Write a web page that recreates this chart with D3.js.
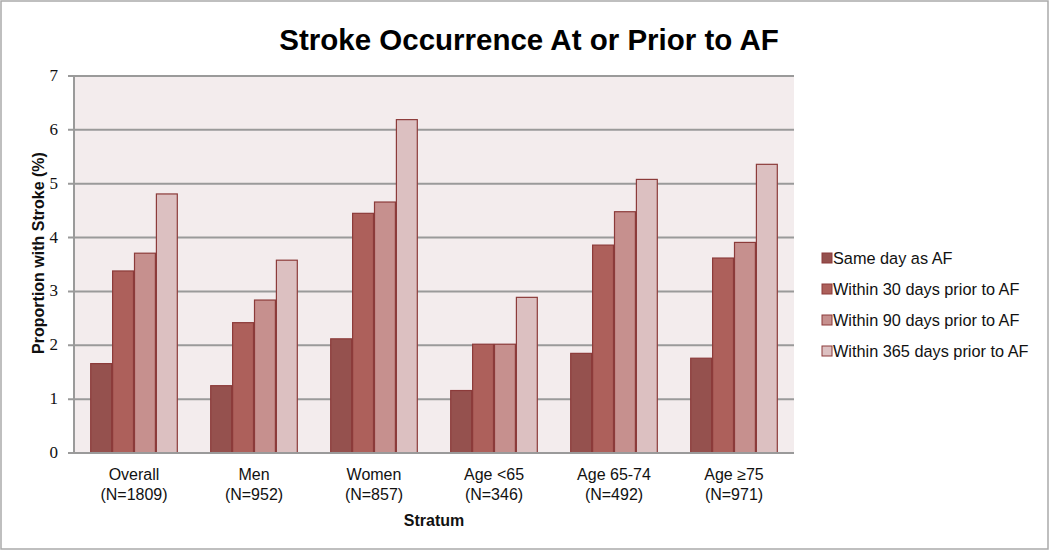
<!DOCTYPE html>
<html><head><meta charset="utf-8">
<script src="https://cdn.jsdelivr.net/npm/d3@7"></script>
<style>body{margin:0;background:#fff}svg{display:block;font-family:"Liberation Sans",Arial,sans-serif}</style>
</head><body><svg id="c" width="1050" height="553"></svg>
<script>
const categories = ["Overall", "Men", "Women", "Age <65", "Age 65-74", "Age \u226575"];
const sampleSizes = ["(N=1809)", "(N=952)", "(N=857)", "(N=346)", "(N=492)", "(N=971)"];
const seriesNames = ["Same day as AF", "Within 30 days prior to AF", "Within 90 days prior to AF", "Within 365 days prior to AF"];
const sameDay = [1.66, 1.25, 2.12, 1.16, 1.85, 1.76];
const within30 = [3.38, 2.42, 4.45, 2.02, 3.86, 3.62];
const within90 = [3.71, 2.84, 4.66, 2.02, 4.48, 3.91];
const within365 = [4.81, 3.58, 6.19, 2.89, 5.08, 5.36];
const yTicks = [0, 1, 2, 3, 4, 5, 6, 7];
const series = [sameDay, within30, within90, within365];
const colors = ["#95514e", "#ad605b", "#c6908e", "#dcc0c1"];

const svg = d3.select("#c");
svg.append("rect").attr("x", 1).attr("y", 1).attr("width", 1047).attr("height", 548)
  .attr("fill", "#fff").attr("stroke", "#aaa").attr("stroke-width", 1.5);

const L = 74, R = 794, T = 76, B = 453;
const x0 = d3.scaleBand().domain(categories).range([L, R]).paddingInner(0.27).paddingOuter(0.135);
const x1 = d3.scaleBand().domain(d3.range(4)).range([0, x0.bandwidth()]);
const y = d3.scaleLinear().domain([0, 7]).range([B, T]);

svg.append("rect").attr("x", L).attr("y", T).attr("width", R - L).attr("height", B - T).attr("fill", "#f3eced");

svg.append("g").selectAll("line").data(yTicks).join("line")
  .attr("x1", L - 6).attr("x2", R).attr("y1", d => y(d)).attr("y2", d => y(d))
  .attr("stroke", "#9a9a9a").attr("stroke-width", 2);
svg.append("line").attr("x1", L).attr("x2", L).attr("y1", T).attr("y2", B).attr("stroke", "#9a9a9a").attr("stroke-width", 2);

svg.append("g").selectAll("text").data(yTicks).join("text")
  .attr("x", L - 16).attr("y", d => y(d) + 5).attr("text-anchor", "end")
  .attr("font-family", "'Liberation Serif','DejaVu Serif',serif")
  .attr("font-size", 17).attr("fill", "#111").text(d => d);

const g = svg.append("g");
categories.forEach((c, i) => {
  series.forEach((s, j) => {
    g.append("rect")
      .attr("x", x0(c) + x1(j) + 0.5).attr("width", x1.bandwidth() - 1)
      .attr("y", y(s[i])).attr("height", y(0) - y(s[i]))
      .attr("fill", colors[j]).attr("stroke", "#8c3b3a").attr("stroke-width", 1.2);
  });
});
svg.append("line").attr("x1", L - 6).attr("x2", R).attr("y1", B).attr("y2", B).attr("stroke", "#9a9a9a").attr("stroke-width", 2);

const xl = svg.append("g").selectAll("text").data(categories).join("text")
  .attr("text-anchor", "middle").attr("font-size", 16).attr("fill", "#111");
xl.append("tspan").attr("x", d => x0(d) + x0.bandwidth() / 2).attr("y", 480).text(d => d);
xl.append("tspan").attr("x", d => x0(d) + x0.bandwidth() / 2).attr("y", 500).text((d, i) => sampleSizes[i]);

svg.append("text").attr("x", (L + R) / 2).attr("y", 526).attr("text-anchor", "middle")
  .attr("font-size", 16).attr("font-weight", "bold").attr("fill", "#111").text("Stratum");
svg.append("text").attr("transform", `translate(44,253) rotate(-90)`).attr("text-anchor", "middle")
  .attr("font-size", 16).attr("font-weight", "bold").attr("fill", "#111").text("Proportion with Stroke (%)");
svg.append("text").attr("x", 529).attr("y", 50).attr("text-anchor", "middle")
  .attr("font-size", 29.5).attr("font-weight", "bold").attr("fill", "#000").text("Stroke Occurrence At or Prior to AF");

const lg = svg.append("g").selectAll("g").data(seriesNames).join("g")
  .attr("transform", (d, i) => `translate(822,${253 + i * 31})`);
lg.append("rect").attr("width", 10).attr("height", 10).attr("fill", (d, i) => colors[i]).attr("stroke", "#8c3b3a").attr("stroke-width", 1);
lg.append("text").attr("x", 11).attr("y", 11).attr("font-size", 16.3).attr("fill", "#111").text(d => d);
</script></body></html>
